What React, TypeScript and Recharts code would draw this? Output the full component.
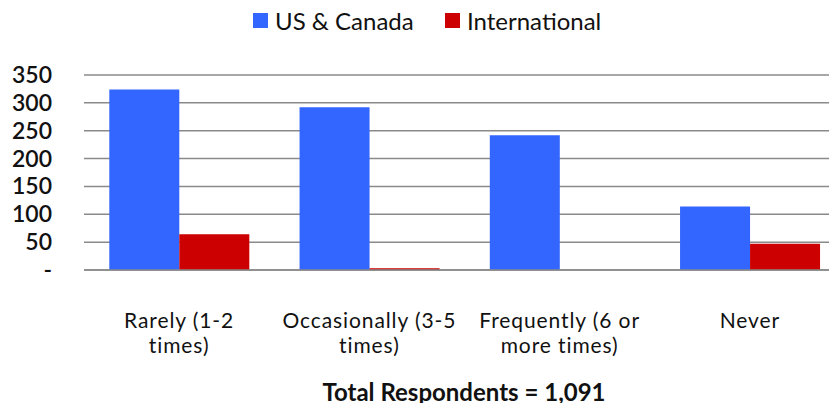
import React from 'react';
import { BarChart, Bar, XAxis, YAxis, CartesianGrid } from 'recharts';

const categories = ['Rarely (1-2 times)', 'Occasionally (3-5 times)', 'Frequently (6 or more times)', 'Never'];
const categoryLines = [['Rarely (1-2', 'times)'], ['Occasionally (3-5', 'times)'], ['Frequently (6 or', 'more times)'], ['Never']];
const usCanada = [324, 292, 242, 114];
const international = [64, 3, 0, 47];
const yTicks = [0, 50, 100, 150, 200, 250, 300, 350];
const seriesNames = ['US & Canada', 'International'];
const colors = ['#3366FF', '#CC0000'];
const title = 'Total Respondents = 1,091';

const data = categories.map((c, i) => ({ name: c, us: usCanada[i], intl: international[i] }));

const FONT = 'Lato, "Open Sans", sans-serif';

const XTick = (props: any) => {
  const { x, y, index } = props;
  const lines = categoryLines[index] || [];
  return (
    <g>
      {lines.map((l, i) => (
        <text key={i} x={x} y={y + 50 + i * 25} textAnchor="middle" fontFamily={FONT} fontSize={21} letterSpacing={0.9} fill="#111">
          {l}
        </text>
      ))}
    </g>
  );
};

const YTick = (props: any) => {
  const { x, y, payload } = props;
  return (
    <text x={x} y={y + 8} textAnchor="end" fontFamily={FONT} fontSize={23} fontWeight={600} fill="#111">
      {payload.value === 0 ? '-' : payload.value}
    </text>
  );
};

export default function App() {
  return (
    <div style={{ position: 'relative', width: 837, height: 411, margin: -8, overflow: 'hidden', background: '#fff' }}>
      <div style={{ position: 'absolute', top: 0, left: 0, width: 837, height: 40, fontFamily: FONT, fontSize: 24, color: '#111' }}>
        {seriesNames.map((n, i) => (
          <div key={n} style={{ position: 'absolute', left: i === 0 ? 253 : 445, top: 5, height: 30, display: 'flex', alignItems: 'center' }}>
            <span style={{ display: 'inline-block', width: 15, height: 15, background: colors[i], marginRight: 7 }} />
            <span>{n}</span>
          </div>
        ))}
      </div>
      <BarChart
        width={845}
        height={411}
        data={data}
        margin={{ top: 75, right: 0, bottom: 56, left: 0 }}
        barCategoryGap="13.3%"
        barGap={0}
      >
        <CartesianGrid vertical={false} stroke="#8a8a8a" strokeWidth={1.5} />
        <XAxis dataKey="name" height={85} axisLine={{ stroke: '#8a8a8a', strokeWidth: 1.5 }} tickLine={false} tick={<XTick />} interval={0} />
        <YAxis width={84} domain={[0, 350]} ticks={yTicks} interval={0} axisLine={false} tickLine={false} tickSize={0} tickMargin={32} tick={<YTick />} />
        <Bar dataKey="us" name={seriesNames[0]} fill={colors[0]} isAnimationActive={false} />
        <Bar dataKey="intl" name={seriesNames[1]} fill={colors[1]} isAnimationActive={false} />
      </BarChart>
      <div style={{ position: 'absolute', left: 0, width: 928, top: 378, lineHeight: '28px', textAlign: 'center', fontFamily: FONT, fontSize: 24, fontWeight: 700, color: '#111' }}>
        {title}
      </div>
    </div>
  );
}
